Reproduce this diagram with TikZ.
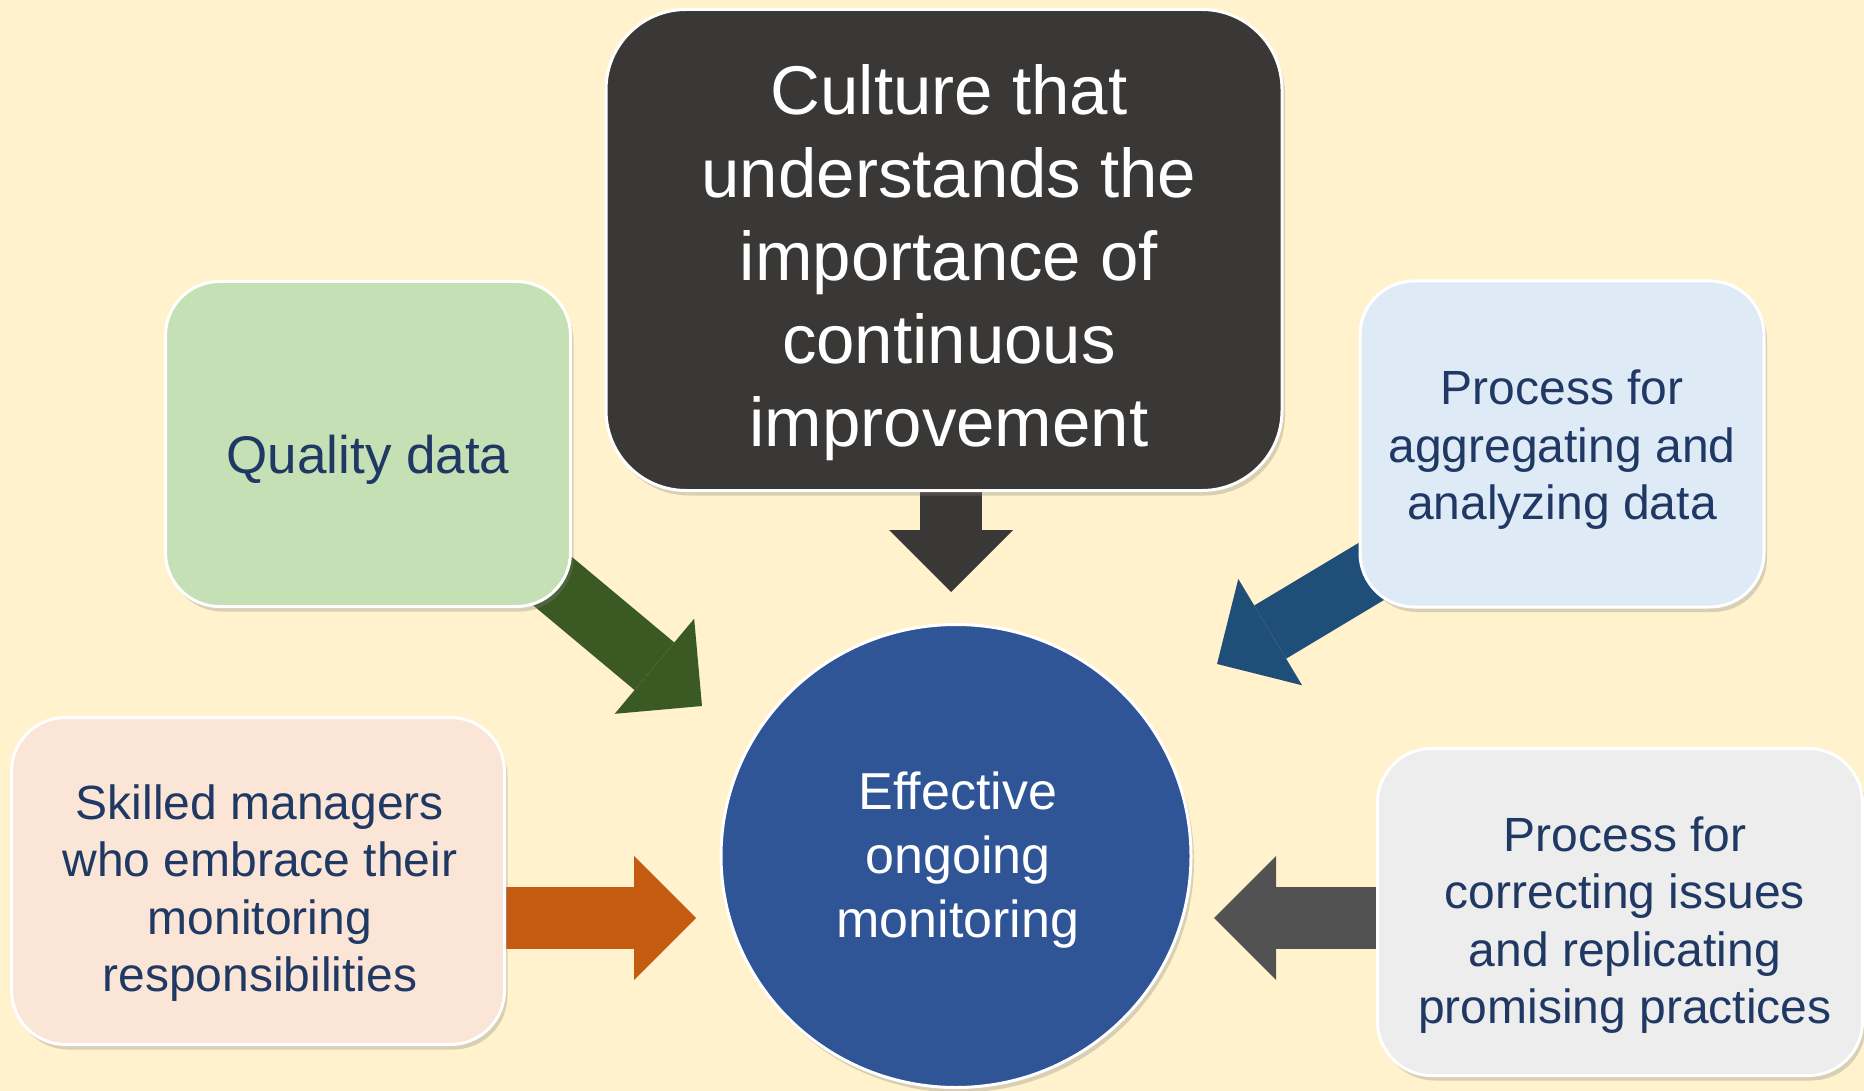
\documentclass[tikz,border=0pt]{standalone}
\usepackage{fontspec}
\setmainfont{Liberation Sans}
\usetikzlibrary{arrows.meta,shapes.geometric,shadows}
\definecolor{cream}{HTML}{FFF2CC}
\definecolor{navy}{HTML}{1F3864}
\definecolor{charcoal}{HTML}{3A3836}
\definecolor{leaf}{HTML}{C5E0B4}
\definecolor{sky}{HTML}{DEEBF7}
\definecolor{peach}{HTML}{FBE5D6}
\definecolor{mist}{HTML}{EDEDED}
\definecolor{royal}{HTML}{2F5597}
\definecolor{moss}{HTML}{3B5A23}
\definecolor{ocean}{HTML}{1F4E79}
\definecolor{rust}{HTML}{C55A11}
\definecolor{slate}{HTML}{525252}
\newcommand\shaft{62pt}
\newcommand\tiplen{62pt}
\newcommand\tipwide{124pt}
\newcommand\corner{54pt}
\pgfdeclarelayer{back}
\pgfsetlayers{back,main}
\tikzset{card/.style={rectangle,draw=white,line width=3pt,inner sep=0pt,rounded corners=\corner,
    drop shadow={shadow xshift=3pt,shadow yshift=-5pt,opacity=0.3}},
  words/.style={align=center,inner sep=0pt,text=navy,font=\fontsize{48}{57.5}\selectfont},
  flow/.style={line width=\shaft,-{Triangle[length=\tiplen,width=\tipwide,line width=0pt]}}}

\begin{document}
\begin{tikzpicture}[x=1pt,y=-1pt]
  \useasboundingbox (0,0) rectangle (1864,1091);
  \begin{pgfonlayer}{back}
    \fill[cream] (0,0) rectangle (1864,1091);
  \end{pgfonlayer}

  % boxes round the centre
  \node[card,fill=charcoal,minimum width=676pt,minimum height=481pt,rounded corners=80pt] (culture) at (944,250) {};
  \node[card,fill=leaf,minimum width=405pt,minimum height=325pt] (quality) at (368,444) {};
  \node[card,fill=sky,minimum width=404pt,minimum height=326pt] (aggregate) at (1562,444) {};
  \node[card,fill=peach,minimum width=493pt,minimum height=327pt] (skilled) at (258,881) {};
  \node[card,fill=mist,minimum width=485pt,minimum height=327pt] (correct) at (1620,912) {};
  \node[ellipse,draw=white,line width=3pt,fill=royal,minimum width=470pt,minimum height=463pt,inner sep=0pt,
    drop shadow={shadow xshift=3pt,shadow yshift=-5pt,opacity=0.3}] (monitor) at (956,856) {};

  % texts
  \node[words,text=white,font=\fontsize{69}{83}\selectfont] (culture-text) at ([xshift=5pt,yshift=-13pt]culture.center)
    {Culture that\\understands the\\importance of\\continuous\\improvement};
  \node[words,font=\fontsize{53}{64}\selectfont] (quality-text) at ([yshift=-16pt]quality.center) {Quality data};
  \node[words] (aggregate-text) at ([yshift=-6pt]aggregate.center) {Process for\\aggregating and\\analyzing data};
  \node[words] (skilled-text) at ([xshift=2pt,yshift=-12pt]skilled.center) {Skilled managers\\who embrace their\\monitoring\\responsibilities};
  \node[words] (correct-text) at ([xshift=5pt,yshift=-13pt]correct.center) {Process for\\correcting issues\\and replicating\\promising practices};
  \node[words,text=white,font=\fontsize{52}{64}\selectfont] (monitor-text) at ([xshift=2pt,yshift=-4pt]monitor.center) {Effective\\ongoing\\monitoring};

  % arrow tips
  \coordinate (tipc) at (951,592);
  \coordinate (tipq) at (702,706);
  \coordinate (tipa) at (1217,664);
  \coordinate (tips) at (696,918);
  \coordinate (tipr) at (1214,918);

  \begin{pgfonlayer}{back}
    \draw[flow,charcoal] (tipc |- culture.center) -- (tipc);
    \draw[flow,moss] ([yshift=17pt]quality.center) -- (tipq);
    \draw[flow,ocean] ([yshift=-13pt]aggregate.center) -- (tipa);
    \draw[flow,rust] (skilled.center |- tips) -- (tips);
    \draw[flow,slate] (correct.center |- tipr) -- (tipr);
  \end{pgfonlayer}
\end{tikzpicture}
\end{document}
